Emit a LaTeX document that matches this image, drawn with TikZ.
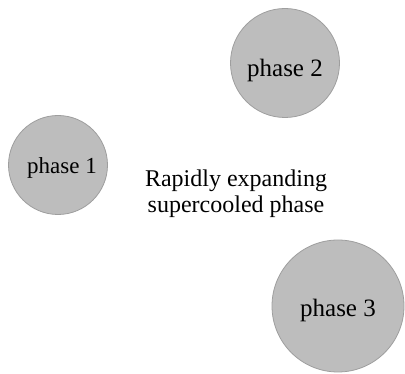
\documentclass[tikz,border=0pt]{standalone}
\usepackage{fontspec}
\setmainfont{Liberation Serif}
\begin{document}
\begin{tikzpicture}[x=1pt,y=-1pt,
  bubble/.style={circle,fill=black!26,draw=black!38,line width=0.8pt,inner sep=0pt,minimum size=#1},
  lbl/.style={font=\fontsize{24}{26}\selectfont}]
\useasboundingbox (0,0) rectangle (405,374);
\node[bubble=99pt] (p1) at (58,165) {};
\node[bubble=109pt] (p2) at (285,63) {};
\node[bubble=132pt] (p3) at (338,306) {};
\node[lbl,font=\fontsize{23}{26}\selectfont] (t1) at ([xshift=4pt,yshift=-3pt]p1) {phase 1};
\node[lbl,font=\fontsize{25}{26}\selectfont] (t2) at ([yshift=-7pt]p2) {phase 2};
\node[lbl,font=\fontsize{25}{26}\selectfont] (t3) at ([yshift=-4pt]p3) {phase 3};
\node[align=center,font=\fontsize{24}{26}\selectfont] (txt) at (236,194) {Rapidly expanding\\supercooled phase};
\end{tikzpicture}
\end{document}
